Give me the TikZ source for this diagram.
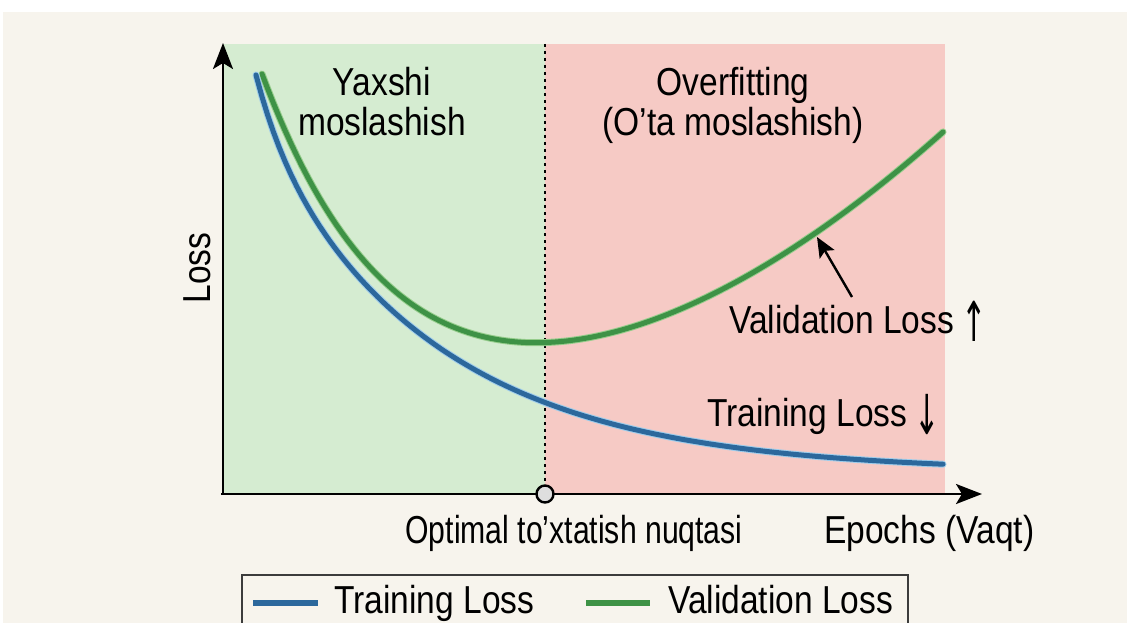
\documentclass[tikz,border=0pt]{standalone}
\usepackage{fontspec}
\setmainfont{Liberation Sans}[FakeStretch=0.86]
\newfontfamily\arrowfont{DejaVu Sans}
\usetikzlibrary{arrows.meta}
\definecolor{bgcream}{RGB}{247,244,237}
\definecolor{goodgreen}{RGB}{213,236,209}
\definecolor{overred}{RGB}{246,202,197}
\definecolor{trainblue}{RGB}{44,104,156}
\definecolor{trainhalo}{RGB}{160,205,235}
\definecolor{valgreen}{RGB}{62,146,70}
\definecolor{valhalo}{RGB}{150,205,140}
\definecolor{circgray}{RGB}{222,222,222}
\definecolor{legframe}{RGB}{60,60,60}
\newcommand{\bigarrow}[1]{\hspace{7pt}\raisebox{-8pt}{\scalebox{0.8}[1.45]{\arrowfont\fontsize{38}{38}\selectfont #1}}}
\tikzset{
  lbl/.style={inner sep=0pt, font=\fontsize{39}{40}\selectfont, text=black},
  axisline/.style={line width=2.6pt, -{Stealth[length=26pt,width=20pt,inset=6pt]}},
  trainline/.style={line width=5pt, trainblue, line cap=round},
  valline/.style={line width=5pt, valgreen, line cap=round},
  halo/.style={line width=7pt, line cap=round},
}
\begin{document}
\begin{tikzpicture}[x=1pt,y=-1pt]
\clip (0,0) rectangle (1127,623);
\fill[white] (0,0) rectangle (1127,623);
\fill[bgcream] (3,12) rectangle (1127,623);
% regions
\fill[goodgreen] (223,44) rectangle (545,494);
\fill[overred] (545,44) rectangle (945,494);
% named points
\coordinate (O) at (223,494);
\coordinate (ytop) at (223,43);
\coordinate (xstart) at (221,494);
\coordinate (xend) at (982,494);
\coordinate (stoptop) at (545,44);
\coordinate (stopbot) at (545,494);
% dotted optimal line
\draw[line width=2.8pt, dash pattern=on 3pt off 4pt] (stoptop) -- (stopbot);
% curves
\draw[halo, valhalo] plot[domain=262:943, samples=120]
  (\x, {430-356*exp(-0.0075*(\x-262))-(0.02638*max(0,\x-291))^2});
\draw[valline] plot[domain=262:943, samples=120]
  (\x, {430-356*exp(-0.0075*(\x-262))-(0.02638*max(0,\x-291))^2});
\draw[halo, trainhalo] plot[domain=256:943, samples=120]
  (\x, {472-340*exp(-0.0055*(\x-256))-57*exp(-0.035*(\x-256))});
\draw[trainline] plot[domain=256:943, samples=120]
  (\x, {472-340*exp(-0.0055*(\x-256))-57*exp(-0.035*(\x-256))});
% axes
\draw[axisline] (O) -- (ytop);
\draw[axisline] (xstart) -- (xend);
\node[circle, draw=black, line width=2.4pt, fill=circgray, minimum size=17pt, inner sep=0pt] (opt) at (stopbot) {};
% labels
\node[lbl, rotate=90] (loss) at (197,268) {Loss};
\node[lbl, align=center, anchor=north] (good) at (382,67) {Yaxshi\\moslashish};
\node[lbl, align=center, anchor=north] (over) at (733,67) {Overfitting\\(O’ta moslashish)};
\node[lbl, anchor=base west] (vlab) at (729,333) {Validation Loss\bigarrow{↑}};
\node[lbl, anchor=base west] (tlab) at (707,426) {Training Loss\bigarrow{↓}};
\node[lbl, anchor=base] (optlab) at (574,543) {\scalebox{0.9}[1]{Optimal to’xtatish nuqtasi}};
\node[lbl, anchor=base west] (eplab) at (824,543) {Epochs (Vaqt)};
% annotation arrow
\coordinate (vtail) at (852,297);
\coordinate (vtip) at (817,237);
\draw[line width=2.4pt, -{Stealth[length=20pt,width=17pt,inset=4pt]}] (vtail) -- (vtip);
% legend
\draw[legframe, line width=1.5pt, fill=bgcream] (242,575) rectangle (908,650);
\coordinate (lt1) at (253,603);
\coordinate (lt2) at (318,603);
\coordinate (lv1) at (586,603);
\coordinate (lv2) at (650,603);
\draw[line width=5.5pt, trainblue] (lt1) -- (lt2);
\draw[line width=5.5pt, valgreen] (lv1) -- (lv2);
\node[lbl, anchor=base west] (legt) at (334,613) {Training Loss};
\node[lbl, anchor=base west] (legv) at (668,613) {Validation Loss};
\end{tikzpicture}
\end{document}
